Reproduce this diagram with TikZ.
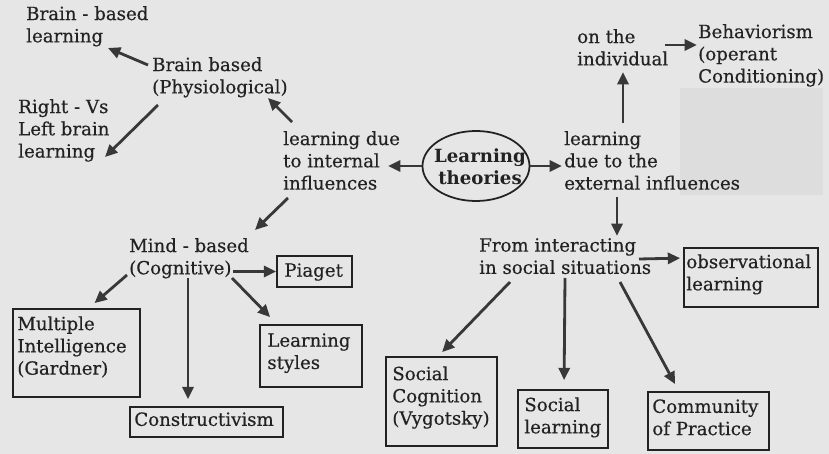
\documentclass[tikz,border=0pt]{standalone}
\usepackage{fontspec}
\setmainfont{DejaVu Serif}[UprightFeatures={FakeBold=0.4}]
\usetikzlibrary{arrows.meta,fit,shapes.geometric}
\definecolor{paper}{HTML}{E6E6E6}
\definecolor{printgray}{HTML}{DDDDDD}
\definecolor{ink}{HTML}{222222}
\definecolor{lineink}{HTML}{383838}

\begin{document}
\begin{tikzpicture}[x=0.03cm,y=-0.03cm,
  lbl/.style={inner sep=0pt, anchor=north west, align=left, text=ink,
    font=\fontsize{15.5}{19}\selectfont},
  arr/.style={draw=lineink, line width=2.4pt, -{Triangle[length=10.5pt,width=9.5pt]}},
  boxed/.style={draw=ink, line width=1.5pt, inner sep=0pt},
  oval/.style={draw=ink, line width=1.5pt, ellipse, inner sep=0pt},
  ovaltext/.style={inner sep=0pt, align=center, text=ink,
    font=\bfseries\fontsize{15.5}{19}\selectfont},
]
% page and printed backdrop
\fill[paper] (0,0) rectangle (829,454);
\useasboundingbox (0,0) rectangle (829,454);
\fill[printgray] (680,88) rectangle (823,195);

% centre
\node[oval, minimum width=3.21cm, minimum height=2.1cm] (lt) at (476,166) {};
\node[ovaltext] (lt-t) at (480,167) {Learning\\theories};

% internal branch
\node[lbl] (lint) at (283,131) {learning due\\to internal\\influences};
\node[lbl] (bb)   at (152,57)  {Brain based\\(Physiological)};
\node[lbl] (bbl)  at (26,6)    {Brain - based\\learning};
\node[lbl] (rvl)  at (18,99)   {Right - Vs\\Left brain\\learning};
\node[lbl] (mind) at (129,238) {Mind - based\\(Cognitive)};

\node[boxed, fit={(277,256) (352,287)}] (pg) {};
\node[lbl] (pg-t) at ([shift={(8,8)}]pg.north west) {Piaget};
\node[boxed, fit={(13,309) (140,397)}] (mi) {};
\node[lbl] (mi-t) at ([shift={(5,8)}]mi.north west) {Multiple\\Intelligence\\(Gardner)};
\node[boxed, fit={(130,407) (283,437)}] (cons) {};
\node[lbl] (cons-t) at ([shift={(5,6)}]cons.north west) {Constructivism};
\node[boxed, fit={(260,325) (362,387)}] (ls) {};
\node[lbl] (ls-t) at ([shift={(8,9)}]ls.north west) {Learning\\styles};

% external branch
\node[lbl] (lext) at (564,131) {learning\\due to the\\external influences};
\node[lbl] (oti)  at (577,29)  {on the\\individual};
\node[lbl] (beh)  at (698,24)  {Behaviorism\\(operant\\Conditioning)};
\node[lbl] (fis)  at (479,238) {From interacting\\in social situations};

\node[boxed, fit={(684,248) (818,307)}] (obs) {};
\node[lbl] (obs-t) at ([shift={(3,7)}]obs.north west) {observational\\learning};
\node[boxed, fit={(386,357) (497,446)}] (sc) {};
\node[lbl] (sc-t) at ([shift={(7,10)}]sc.north west) {Social\\Cognition\\(Vygotsky)};
\node[boxed, fit={(518,390) (608,448)}] (sl) {};
\node[lbl] (sl-t) at ([shift={(7,8)}]sl.north west) {Social\\learning};
\node[boxed, fit={(648,392) (769,450)}] (cp) {};
\node[lbl] (cp-t) at ([shift={(5,8)}]cp.north west) {Community\\of Practice};

% connectors
\draw[arr] (lt.west) -- ([shift={(105,35)}]lint.north west);
\draw[arr] (lt.east) -- ([shift={(-2,35)}]lext.north west);

\draw[arr] ([shift={(9,-9)}]lint.north west) -- ([shift={(116,41)}]bb.north west);
\draw[arr] ([shift={(-4,8)}]bb.north west) -- ([shift={(82,42)}]bbl.north west);
\draw[arr] ([shift={(6,48)}]bb.north west) -- ([shift={(87,58)}]rvl.north west);
\draw[arr] ([shift={(5,67)}]lint.north west) -- ([shift={(126,-8)}]mind.north west);

\draw[arr] ([shift={(104,33.5)}]mind.north west) -- (pg.west);
\draw[arr] ([shift={(-2,37)}]mind.north west) -- ([shift={(18,-5)}]mi.north);
\draw[arr] ([shift={(59,40)}]mind.north west) -- ([shift={(-18.5,-7)}]cons.north);
\draw[arr] ([shift={(103,40)}]mind.north west) -- ([shift={(11,-7)}]ls.north west);

\draw[arr] ([shift={(59,-8)}]lext.north west) -- ([shift={(46,43)}]oti.north west);
\draw[arr] ([shift={(88,16)}]oti.north west) -- ([shift={(-1,21)}]beh.north west);
\draw[arr] ([shift={(53,66)}]lext.north west) -- ([shift={(138,-2)}]fis.north west);

\draw[arr] ([shift={(160,21)}]fis.north west) -- ([shift={(-3,11)}]obs.north west);
\draw[arr] ([shift={(31,44)}]fis.north west) -- ([shift={(57,-4)}]sc.north west);
\draw[arr] ([shift={(86,40)}]fis.north west) -- ([shift={(47,-9)}]sl.north west);
\draw[arr] ([shift={(141,44)}]fis.north west) -- ([shift={(28,-7)}]cp.north west);
\end{tikzpicture}
\end{document}
